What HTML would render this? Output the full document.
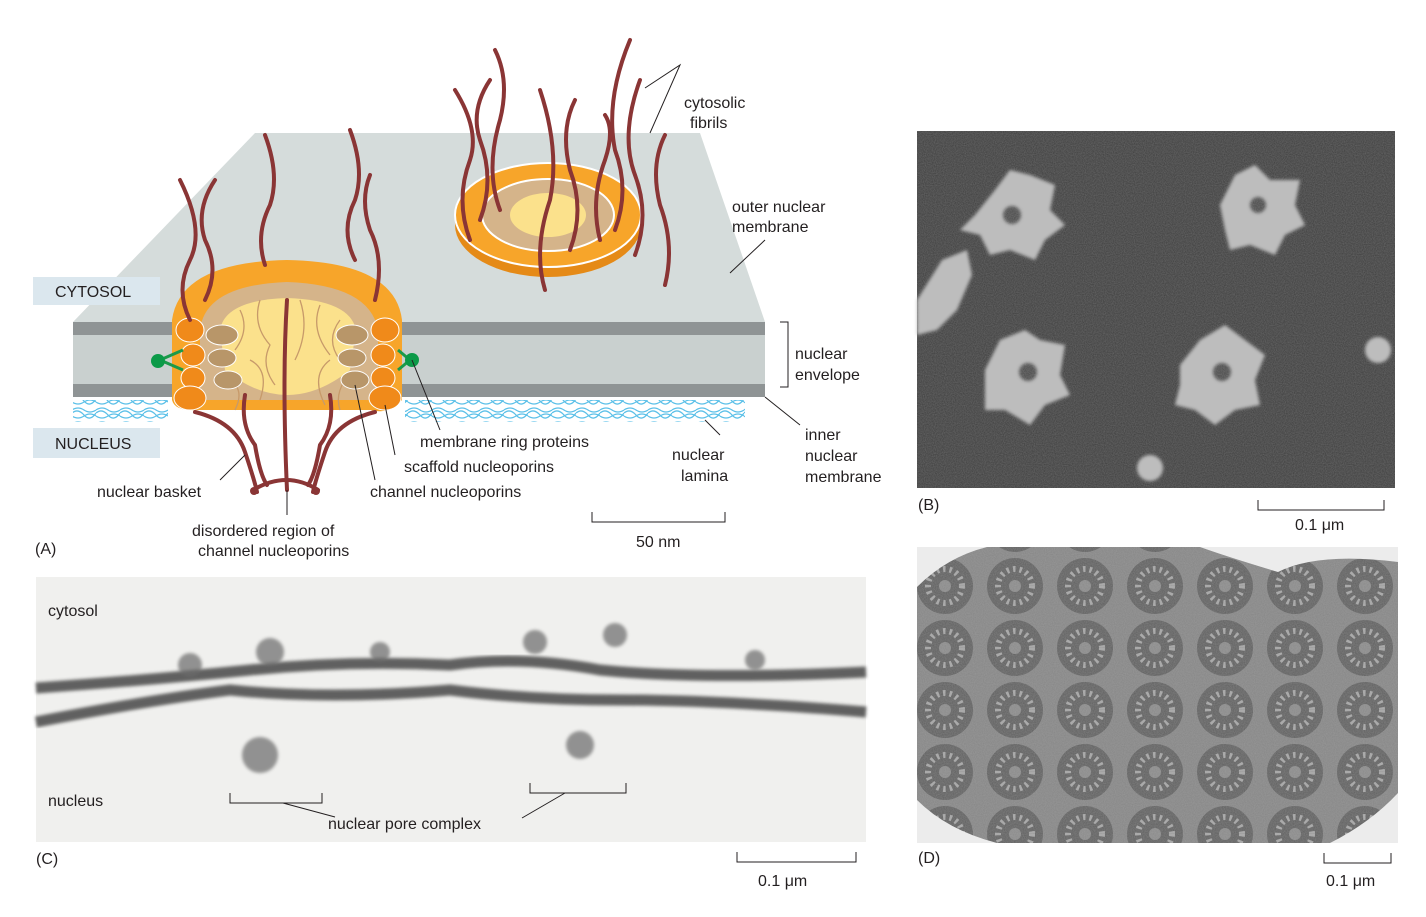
<!DOCTYPE html>
<html><head><meta charset="utf-8"><style>
body{margin:0;background:#fff;}
svg{display:block;font-family:"Liberation Sans",sans-serif;}
text{font-size:16px;fill:#231f20;}
</style></head><body>
<svg width="1426" height="917" viewBox="0 0 1426 917">
<defs>
<filter id="noise" x="0" y="0" width="100%" height="100%"><feTurbulence type="fractalNoise" baseFrequency="0.9" numOctaves="2" seed="3"/><feColorMatrix type="matrix" values="0 0 0 0 0.5  0 0 0 0 0.5  0 0 0 0 0.5  0 0 0 0.35 0"/></filter>
<filter id="fz"><feGaussianBlur stdDeviation="1.5"/></filter>
<pattern id="pd" width="70" height="62" patternUnits="userSpaceOnUse" x="910" y="555"><circle cx="35" cy="31" r="28" fill="#5f5f5f"/><circle cx="35" cy="31" r="17" fill="none" stroke="#a6a6a6" stroke-width="6" stroke-dasharray="2.5 4"/><circle cx="35" cy="31" r="6" fill="#8a8a8a"/></pattern>
<pattern id="lam" width="24" height="14" patternUnits="userSpaceOnUse"><path d="M0,4 q6,-4 12,0 t12,0 M0,10 q6,4 12,0 t12,0 M0,7 q6,-5 12,2 t12,-2" stroke="#5bc0e8" fill="none" stroke-width="1.3"/></pattern>
</defs>
<!-- Panel A slab -->
<polygon points="255,133 700,133 765,322 73,322" fill="#d5dcdb"/>
<rect x="73" y="335" width="692" height="49" fill="#c9d0cf"/>
<rect x="73" y="322" width="692" height="13" fill="#8f9495"/>
<rect x="73" y="384" width="692" height="13" fill="#8f9495"/>
<rect x="73" y="400" width="95" height="22" fill="url(#lam)"/>
<rect x="405" y="400" width="340" height="22" fill="url(#lam)"/>
<!-- top disc -->
<ellipse cx="548" cy="225" rx="93" ry="52" fill="#e58a17"/>
<ellipse cx="548" cy="215" rx="93" ry="52" fill="#f7a52a" stroke="#fff" stroke-width="2"/>
<ellipse cx="548" cy="215" rx="66" ry="36" fill="#d5b48a" stroke="#fff" stroke-width="2"/>
<ellipse cx="548" cy="215" rx="38" ry="22" fill="#fbe18c"/>
<!-- pore complex -->
<path d="M172,320 Q180,262 287,260 Q395,262 402,320 L402,400 Q390,415 370,410 L200,410 Q175,412 172,400Z" fill="#f7a52a"/>
<path d="M200,330 Q205,285 287,282 Q370,285 378,330 L378,400 L200,400Z" fill="#d5b48a"/>
<path d="M220,330 Q225,300 287,298 Q350,300 356,330 L350,370 Q287,420 225,370Z" fill="#fbe18c"/>
<path d="M240,310 q10,20 -5,40 M260,300 q-8,25 10,45 q-10,20 5,40 M300,300 q10,30 -5,60 M320,305 q-10,25 10,50 M340,320 q-15,20 0,40 M250,360 q20,10 10,40 M330,360 q-20,15 -5,45 M230,380 q15,10 5,30 M345,380 q-10,15 -5,30" stroke="#c79a6a" fill="none" stroke-width="1.3"/>
<g fill="#b89669" stroke="#fff"><ellipse cx="222" cy="335" rx="16" ry="10"/><ellipse cx="222" cy="358" rx="14" ry="9"/><ellipse cx="228" cy="380" rx="14" ry="9"/><ellipse cx="352" cy="335" rx="16" ry="10"/><ellipse cx="352" cy="358" rx="14" ry="9"/><ellipse cx="355" cy="380" rx="14" ry="9"/></g>
<g fill="#f08a1a" stroke="#fff"><ellipse cx="190" cy="330" rx="14" ry="12"/><ellipse cx="193" cy="355" rx="12" ry="11"/><ellipse cx="193" cy="378" rx="12" ry="11"/><ellipse cx="190" cy="398" rx="16" ry="12"/><ellipse cx="385" cy="330" rx="14" ry="12"/><ellipse cx="383" cy="355" rx="12" ry="11"/><ellipse cx="383" cy="378" rx="12" ry="11"/><ellipse cx="385" cy="398" rx="16" ry="12"/></g>
<g stroke="#1a9a4a" stroke-width="3" fill="none"><path d="M183,350 L160,360 L183,370 M398,350 L410,360 L398,370"/></g>
<circle cx="158" cy="361" r="7" fill="#0b9a48"/><circle cx="412" cy="360" r="7" fill="#0b9a48"/>
<!-- basket -->
<g stroke="#8a3535" stroke-width="4" fill="none" stroke-linecap="round">
<path d="M195,412 q40,10 50,40 q10,30 12,40"/><path d="M245,395 q-5,30 10,50 q5,30 12,40"/><path d="M287,300 q-5,80 0,190"/><path d="M330,395 q5,30 -10,50 q-5,30 -12,40"/><path d="M375,412 q-40,10 -50,40 q-10,30 -12,40"/>
<path d="M253,490 Q287,470 318,490"/>
</g>
<circle cx="254" cy="491" r="4" fill="#8a3535"/><circle cx="316" cy="491" r="4" fill="#8a3535"/>
<!-- fibrils -->
<g stroke="#8a3535" stroke-width="4" fill="none" stroke-linecap="round">
<path d="M190,320 q-15,-30 0,-60 q15,-30 -10,-80"/><path d="M205,300 q15,-30 0,-60 q-10,-30 10,-60"/><path d="M265,265 q-10,-30 5,-60 q10,-30 -5,-70"/><path d="M355,260 q-15,-30 0,-60 q10,-30 -5,-70"/><path d="M375,300 q10,-40 -5,-70 q-10,-30 0,-55"/>
<path d="M470,240 q-15,-40 0,-80 q10,-30 -15,-70"/><path d="M480,220 q15,-40 0,-80 q-10,-30 10,-60"/><path d="M500,210 q-15,-40 0,-90 q10,-40 -5,-70"/><path d="M545,290 q-12,-40 5,-90 q10,-50 -10,-110"/><path d="M570,250 q15,-40 0,-80 q-10,-40 5,-70"/><path d="M600,240 q-10,-40 5,-80 q10,-30 0,-45"/><path d="M615,230 q15,-40 0,-80 q-10,-50 15,-110"/><path d="M635,255 q15,-40 0,-80 q-15,-40 5,-95"/><path d="M665,285 q10,-40 -5,-80 q-10,-40 5,-70"/>
</g>
<rect x="33" y="277" width="127" height="28" fill="#dbe7ee"/><text x="55" y="297">CYTOSOL</text>
<rect x="33" y="428" width="127" height="30" fill="#dbe7ee"/><text x="55" y="449">NUCLEUS</text>
<!-- labels A -->
<g stroke="#231f20" stroke-width="1" fill="none">
<path d="M645,88 L680,65 L650,133"/><path d="M730,273 L765,240"/><path d="M780,322 h8 v65 h-8"/><path d="M765,397 L800,425"/>
<path d="M412,360 L440,430"/><path d="M385,405 L395,455"/><path d="M355,385 L375,480"/><path d="M245,455 L220,480"/><path d="M287,490 L287,515"/><path d="M705,420 L720,435"/>
<path d="M592,512 v10 h133 v-10"/>
</g>
<text x="684" y="108">cytosolic</text><text x="690" y="128">fibrils</text>
<text x="732" y="212">outer nuclear</text><text x="732" y="232">membrane</text>
<text x="795" y="359">nuclear</text><text x="795" y="380">envelope</text>
<text x="805" y="440">inner</text><text x="805" y="461">nuclear</text><text x="805" y="482">membrane</text>
<text x="420" y="447">membrane ring proteins</text>
<text x="404" y="472">scaffold nucleoporins</text>
<text x="370" y="497">channel nucleoporins</text>
<text x="97" y="497">nuclear basket</text>
<text x="672" y="460">nuclear</text><text x="681" y="481">lamina</text>
<text x="192" y="536">disordered region of</text><text x="198" y="556">channel nucleoporins</text>
<text x="636" y="547">50 nm</text><text x="35" y="554">(A)</text>
<!-- Panel B -->
<rect x="917" y="131" width="478" height="357" fill="#3c3c3c"/>
<g fill="#bdbdbd" filter="url(#fz)">
<path d="M975,215 l20,-25 15,-20 20,5 25,10 -5,25 15,15 -20,15 -10,20 -25,-10 -20,5 -10,-20 -20,-5z"/>
<path d="M1220,205 l15,-30 20,-10 15,15 30,0 -5,25 10,20 -20,10 -10,20 -25,-10 -20,5 -5,-20z"/>
<path d="M985,370 l15,-30 25,-10 15,10 25,5 -5,30 10,20 -25,10 -15,20 -25,-15 -20,0 0,-20z"/>
<path d="M1180,365 l20,-25 25,-15 20,15 20,15 -10,25 5,25 -25,5 -20,15 -20,-15 -20,-5 5,-20z"/>
<path d="M917,300 l25,-40 25,-10 5,25 -15,35 -20,20 -20,5z"/>
<circle cx="1378" cy="350" r="13"/><circle cx="1150" cy="468" r="13"/>
</g>
<g fill="#4a4a4a" filter="url(#fz)"><circle cx="1012" cy="215" r="9"/><circle cx="1258" cy="205" r="8"/><circle cx="1028" cy="372" r="9"/><circle cx="1222" cy="372" r="9"/></g>
<rect x="917" y="131" width="478" height="357" filter="url(#noise)"/>
<path d="M1258,500 v10 h126 v-10" stroke="#231f20" fill="none"/>
<text x="1295" y="530">0.1 μm</text><text x="918" y="510">(B)</text>
<!-- Panel D -->
<rect x="917" y="547" width="481" height="296" fill="#858585"/>
<rect x="917" y="547" width="481" height="296" fill="url(#pd)"/>
<rect x="917" y="547" width="481" height="296" filter="url(#noise)"/>
<path d="M917,547 h70 q-40,10 -70,40Z M1200,547 h198 v15 q-80,-10 -120,10 q-50,-15 -78,-25Z M917,800 q30,30 80,43 h-80Z M1330,843 q40,-20 68,-50 v50Z" fill="#ececec"/>
<path d="M1324,853 v10 h67 v-10" stroke="#231f20" fill="none"/>
<text x="1326" y="886">0.1 μm</text><text x="918" y="863">(D)</text>
<!-- Panel C -->
<rect x="36" y="577" width="830" height="265" fill="#f0f0ee"/>
<g stroke="#3e3e3e" fill="none" stroke-width="11" opacity="0.8" filter="url(#fz)">
<path d="M36,688 Q150,680 250,670 Q350,660 450,665 Q520,655 600,670 Q700,680 866,672"/>
<path d="M36,722 Q150,700 230,690 Q330,700 450,690 Q530,700 620,700 Q720,700 866,712"/>
</g>
<g fill="#6a6a6a" opacity="0.7" filter="url(#fz)"><circle cx="190" cy="665" r="12"/><circle cx="270" cy="652" r="14"/><circle cx="380" cy="652" r="10"/><circle cx="535" cy="642" r="12"/><circle cx="615" cy="635" r="12"/><circle cx="755" cy="660" r="10"/><circle cx="260" cy="755" r="18"/><circle cx="580" cy="745" r="14"/></g>
<text x="48" y="616">cytosol</text><text x="48" y="806">nucleus</text>
<path d="M230,793 v10 h92 v-10 M530,783 v10 h96 v-10 M283,803 L335,817 M565,793 L522,818" stroke="#231f20" fill="none"/>
<text x="328" y="829">nuclear pore complex</text>
<text x="36" y="864">(C)</text>
<path d="M737,852 v10 h119 v-10" stroke="#231f20" fill="none"/>
<text x="758" y="886">0.1 μm</text>
</svg>
</body></html>
